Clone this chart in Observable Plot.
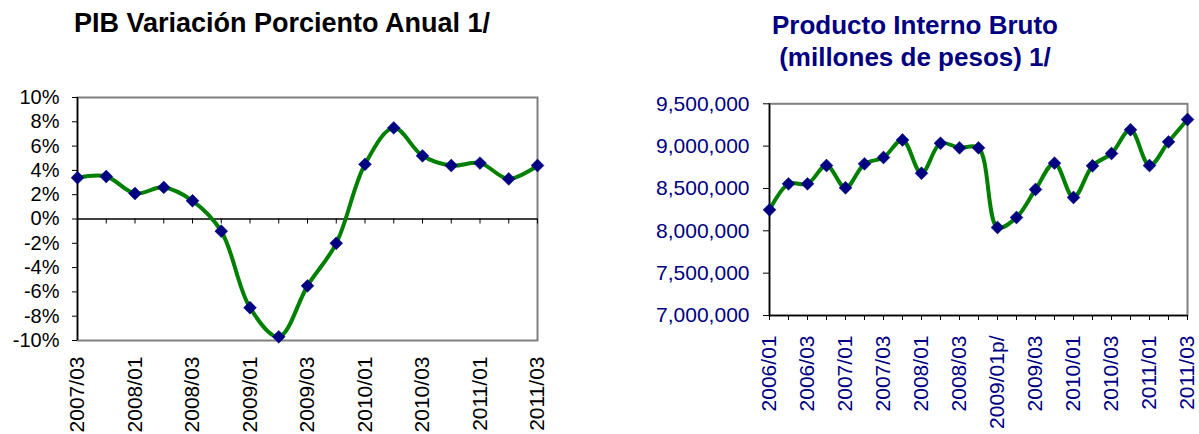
<!DOCTYPE html>
<html>
<head>
<meta charset="utf-8">
<script src="https://cdn.jsdelivr.net/npm/d3@7"></script>
<script src="https://cdn.jsdelivr.net/npm/@observablehq/plot@0.6"></script>
<style>
  html, body { margin: 0; padding: 0; background: #fff; }
  #wrap { position: relative; width: 1199px; height: 434px; overflow: hidden; background: #fff;
          font-family: "Liberation Sans", Arial, sans-serif; }
  .title { position: absolute; text-align: center; font-weight: bold; white-space: nowrap; }
  #t1 { left: 0; width: 564px; top: 10px; font-size: 27px; line-height: 27px; color: #000; }
  #t2 { left: 665px; width: 500px; top: 9px; font-size: 26px; line-height: 32px; color: #000080; }
  #c1 { position: absolute; left: 0; top: 80px; }
  #c2 { position: absolute; left: 600px; top: 80px; }
</style>
</head>
<body>
<div id="wrap">
  <div class="title" id="t1">PIB Variación Porciento Anual 1/</div>
  <div class="title" id="t2">Producto Interno Bruto<br>(millones de pesos) 1/</div>
  <div id="c1"></div>
  <div id="c2"></div>
</div>
<script>
// ---- Left chart data: PIB variación porciento anual ----
const leftQuarters = ["2007/03","2007/04","2008/01","2008/02","2008/03","2008/04","2009/01","2009/02","2009/03","2009/04","2010/01","2010/02","2010/03","2010/04","2011/01","2011/02","2011/03"];
const leftValues = [3.4, 3.5, 2.1, 2.6, 1.5, -1.0, -7.3, -9.7, -5.5, -2.0, 4.5, 7.5, 5.2, 4.4, 4.6, 3.3, 4.4];
const leftXTicks = ["2007/03","2008/01","2008/03","2009/01","2009/03","2010/01","2010/03","2011/01","2011/03"];
const leftYTicks = [-10, -8, -6, -4, -2, 0, 2, 4, 6, 8, 10];

// ---- Right chart data: Producto Interno Bruto (millones de pesos) ----
const rightQuarters = ["2006/01","2006/02","2006/03","2006/04","2007/01","2007/02","2007/03","2007/04","2008/01","2008/02","2008/03","2008/04","2009/01p/","2009/02","2009/03","2009/04","2010/01","2010/02","2010/03","2010/04","2011/01","2011/02","2011/03"];
const rightValues = [8248000, 8555000, 8555000, 8771000, 8508000, 8791000, 8866000, 9073000, 8680000, 9034000, 8980000, 8980000, 8039000, 8157000, 8488000, 8799000, 8394000, 8768000, 8913000, 9193000, 8771000, 9051000, 9315000];
const rightXTicks = ["2006/01","2006/03","2007/01","2007/03","2008/01","2008/03","2009/01p/","2009/03","2010/01","2010/03","2011/01","2011/03"];
const rightYTicks = [7000000, 7500000, 8000000, 8500000, 9000000, 9500000];

const GREEN = "#008000", NAVY = "#000080", GREY = "#808080";
const FONT = "Liberation Sans, Arial, sans-serif";

const leftData = leftQuarters.map((q, i) => ({q, v: leftValues[i]}));
const rightData = rightQuarters.map((q, i) => ({q, v: rightValues[i]}));

const left = Plot.plot({
  width: 560, height: 354,
  marginLeft: 77, marginRight: 23, marginTop: 17, marginBottom: 94,
  style: {fontFamily: FONT, background: "transparent", overflow: "visible"},
  x: {type: "point", domain: leftQuarters, padding: 0, round: false, label: null, axis: null},
  y: {domain: [leftYTicks[0], leftYTicks[leftYTicks.length - 1]], label: null, axis: null},
  marks: [
    Plot.frame({stroke: GREY, strokeWidth: 2}),
    Plot.ruleY([0], {stroke: "#000", strokeWidth: 1.5}),
    Plot.ruleX(leftQuarters, {x: d => d, y1: 0, y2: 0, insetBottom: -5, stroke: "#000", strokeWidth: 1}),
    Plot.ruleX([leftQuarters[0]], {stroke: "#000", strokeWidth: 1.5}),
    Plot.axisY({ticks: leftYTicks, tickFormat: d => `${d}%`, tickSize: 5, tickPadding: 13,
                fontSize: 20, fill: "#000", stroke: "#000", label: null}),
    Plot.axisX({ticks: leftXTicks, tickSize: 0, tickRotate: -90, tickPadding: 16,
                fontSize: 21, fill: "#000", label: null}),
    Plot.line(leftData, {x: "q", y: "v", curve: "catmull-rom", stroke: GREEN, strokeWidth: 4}),
    Plot.dot(leftData, {x: "q", y: "v", symbol: "diamond2", r: 5.8, fill: NAVY, stroke: NAVY, strokeWidth: 0.5})
  ]
});
document.getElementById("c1").appendChild(left);

const right = Plot.plot({
  width: 599, height: 354,
  marginLeft: 169, marginRight: 12, marginTop: 23.3, marginBottom: 119,
  style: {fontFamily: FONT, background: "transparent", overflow: "visible"},
  x: {type: "point", domain: rightQuarters, padding: 0, round: false, label: null, axis: null},
  y: {domain: [rightYTicks[0], rightYTicks[rightYTicks.length - 1]], label: null, axis: null},
  marks: [
    Plot.frame({stroke: GREY, strokeWidth: 2}),
    Plot.ruleY([rightYTicks[0]], {stroke: "#000", strokeWidth: 1.5}),
    Plot.ruleX([rightQuarters[0]], {stroke: "#000", strokeWidth: 1.5}),
    Plot.ruleX(rightQuarters, {x: d => d, y1: rightYTicks[0], y2: rightYTicks[0], insetBottom: -5, stroke: "#000", strokeWidth: 1}),
    Plot.axisY({ticks: rightYTicks, tickFormat: d3.format(","), tickSize: 6, tickPadding: 14,
                fontSize: 21, fill: NAVY, stroke: "#000", label: null}),
    Plot.axisX({ticks: rightXTicks, tickSize: 0, tickRotate: -90, tickPadding: 20,
                fontSize: 21, fill: NAVY, label: null}),
    Plot.line(rightData, {x: "q", y: "v", curve: "catmull-rom", stroke: GREEN, strokeWidth: 4}),
    Plot.dot(rightData, {x: "q", y: "v", symbol: "diamond2", r: 5.8, fill: NAVY, stroke: NAVY, strokeWidth: 0.5})
  ]
});
document.getElementById("c2").appendChild(right);
</script>
</body>
</html>
